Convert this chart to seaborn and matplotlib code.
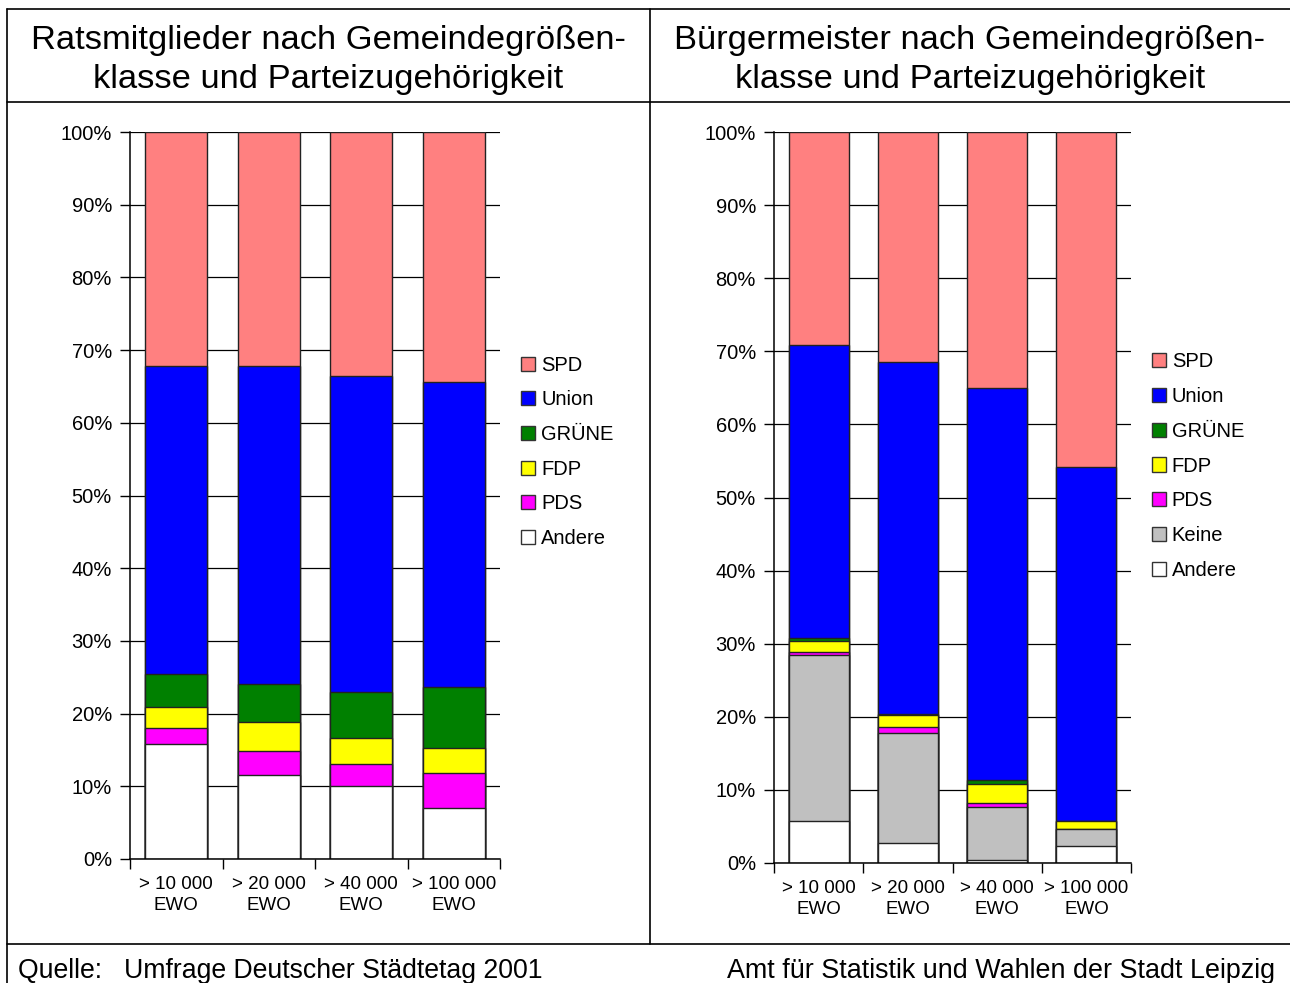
import numpy as np
import pandas as pd
import matplotlib
matplotlib.use("Agg")
import matplotlib.pyplot as plt
import seaborn as sns
from matplotlib.patches import Patch
from matplotlib.lines import Line2D
from matplotlib.ticker import FixedLocator, PercentFormatter

# ---------------- data ----------------
categories = ["> 10 000\nEWO", "> 20 000\nEWO", "> 40 000\nEWO", "> 100 000\nEWO"]

# Ratsmitglieder (percent shares, bottom to top)
rat_andere = [15.8, 11.6, 10.1, 7.0]
rat_pds    = [2.2, 3.3, 2.9, 4.8]
rat_fdp    = [2.9, 4.0, 3.7, 3.4]
rat_gruene = [4.6, 5.2, 6.3, 8.5]
rat_union  = [42.3, 43.7, 43.5, 41.9]
rat_spd    = [32.2, 32.2, 33.5, 34.4]

# Bürgermeister (percent shares, bottom to top)
bm_andere = [5.8, 2.7, 0.4, 2.3]
bm_keine  = [22.7, 15.1, 7.3, 2.4]
bm_pds    = [0.4, 0.8, 0.5, 0.0]
bm_fdp    = [1.5, 1.6, 2.6, 1.1]
bm_gruene = [0.4, 0.2, 0.6, 0.0]
bm_union  = [40.1, 48.1, 53.6, 48.4]
bm_spd    = [29.1, 31.5, 35.0, 45.8]

colors = {
    "SPD": "#FF8080",
    "Union": "#0000FF",
    "GRÜNE": "#008000",
    "FDP": "#FFFF00",
    "PDS": "#FF00FF",
    "Keine": "#C0C0C0",
    "Andere": "#FFFFFF",
}

title_left = "Ratsmitglieder nach Gemeindegrößen-\nklasse und Parteizugehörigkeit"
title_right = "Bürgermeister nach Gemeindegrößen-\nklasse und Parteizugehörigkeit"
footer_left = "Quelle:   Umfrage Deutscher Städtetag 2001"
footer_right = "Amt für Statistik und Wahlen der Stadt Leipzig"

# ---------------- plotting ----------------
sns.set_theme(style="white")
plt.rcParams["font.family"] = ["Liberation Sans", "DejaVu Sans"]
plt.rcParams["text.color"] = "black"
plt.rcParams["xtick.color"] = "black"
plt.rcParams["ytick.color"] = "black"
plt.rcParams["axes.labelcolor"] = "black"

W, H = 1290, 983
fig = plt.figure(figsize=(W / 100, H / 100), dpi=100)


def stacked(ax, layers, legend_order):
    # layers: list of (name, values) from bottom to top
    names = [n for n, _ in layers]
    vals = np.array([v for _, v in layers], dtype=float)
    cum = np.cumsum(vals, axis=0)
    ax.set_axisbelow(True)
    ax.yaxis.grid(True, color="black", lw=0.9)
    # draw from top cumulative down so lower layers overlay
    for i in range(len(names) - 1, -1, -1):
        df = pd.DataFrame({"cat": categories, "val": cum[i]})
        sns.barplot(data=df, x="cat", y="val", ax=ax, color=colors[names[i]],
                    saturation=1, width=0.67, edgecolor="#222222",
                    linewidth=1.0, errorbar=None)
    ax.set_xlim(-0.5, 3.5)
    ax.set_ylim(0, 100)
    ax.set_xlabel("")
    ax.set_ylabel("")
    ax.yaxis.set_major_locator(FixedLocator(np.arange(0, 101, 10)))
    ax.yaxis.set_major_formatter(PercentFormatter(decimals=0))
    ax.tick_params(axis="y", direction="out", length=7, width=1, color="black",
                   labelcolor="black", labelsize=14.5, left=True, pad=6)
    ax.tick_params(axis="x", which="major", length=0, labelsize=13.5, pad=12,
                   labelcolor="black")
    ax.set_xticks(np.arange(-0.5, 3.6, 1.0), minor=True)
    ax.tick_params(axis="x", which="minor", direction="out", length=7,
                   width=1, color="black", bottom=True)
    for lab in ax.get_xticklabels():
        lab.set_linespacing(1.3)
    for s in ["top", "right"]:
        ax.spines[s].set_visible(False)
    for s in ["left", "bottom"]:
        ax.spines[s].set_color("black")
        ax.spines[s].set_linewidth(1.1)
    handles = [Patch(facecolor=colors[n], edgecolor="#333333", lw=1.0, label=n)
               for n in legend_order]
    return handles


ax1 = fig.add_axes([130 / W, 1 - 859 / H, 370 / W, 727 / H])
h1 = stacked(ax1, [("Andere", rat_andere), ("PDS", rat_pds), ("FDP", rat_fdp),
                   ("GRÜNE", rat_gruene), ("Union", rat_union), ("SPD", rat_spd)],
             ["SPD", "Union", "GRÜNE", "FDP", "PDS", "Andere"])
ax1.legend(handles=h1, loc="center left", bbox_to_anchor=(1.035, 0.56),
           frameon=False, fontsize=14.5, handlelength=0.7, handleheight=0.7,
           handletextpad=0.3, labelspacing=0.78, borderaxespad=0,
           labelcolor="black")

ax2 = fig.add_axes([774 / W, 1 - 863 / H, 357 / W, 731 / H])
h2 = stacked(ax2, [("Andere", bm_andere), ("Keine", bm_keine), ("PDS", bm_pds),
                   ("FDP", bm_fdp), ("GRÜNE", bm_gruene), ("Union", bm_union),
                   ("SPD", bm_spd)],
             ["SPD", "Union", "GRÜNE", "FDP", "PDS", "Keine", "Andere"])
ax2.legend(handles=h2, loc="center left", bbox_to_anchor=(1.035, 0.543),
           frameon=False, fontsize=14.5, handlelength=0.7, handleheight=0.7,
           handletextpad=0.3, labelspacing=0.78, borderaxespad=0,
           labelcolor="black")

# titles
fig.text(328 / W, 1 - 60 / H, title_left, ha="center", va="center",
         fontsize=24.8, linespacing=1.3, color="black")
fig.text(970 / W, 1 - 60 / H, title_right, ha="center", va="center",
         fontsize=24.8, linespacing=1.3, color="black")

# footers
fig.text(18 / W, 1 - 971 / H, footer_left, ha="left", va="center",
         fontsize=19.2, color="black")
fig.text(1275 / W, 1 - 971 / H, footer_right, ha="right", va="center",
         fontsize=19.4, color="black")

# frame lines
def fline(x0, y0, x1, y1):
    fig.add_artist(Line2D([x0 / W, x1 / W], [1 - y0 / H, 1 - y1 / H],
                          color="black", lw=1.2, transform=fig.transFigure))

fline(7, 9, W, 9)
fline(7, 102, W, 102)
fline(7, 944, W, 944)
fline(7, 9, 7, H)
fline(650, 9, 650, 944)

fig.savefig("out.png", dpi=100, facecolor="white")
